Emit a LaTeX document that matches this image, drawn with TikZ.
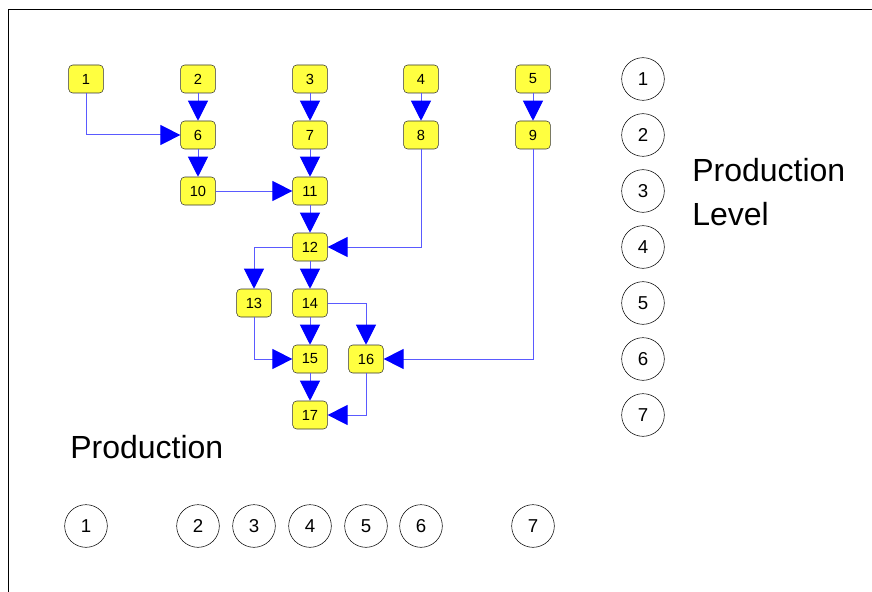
\documentclass[tikz,border=0pt]{standalone}
\usepackage{fontspec}
\setmainfont{Liberation Sans}
\usetikzlibrary{arrows.meta, positioning}
\definecolor{partyellow}{RGB}{255,255,64}
\definecolor{flowblue}{RGB}{90,90,255}

\begin{document}
\begin{tikzpicture}[
    x=0.75pt, y=-0.75pt,
    part/.style={rectangle, draw=black!80, fill=partyellow, rounded corners=3pt, minimum width=26pt, minimum height=21pt, inner sep=0pt, font=\fontsize{11}{13}\selectfont},
    ring/.style={circle, draw, minimum size=32pt, inner sep=0pt, font=\fontsize{14}{16}\selectfont},
    flow/.style={draw=flowblue, line width=0.75pt, -{Triangle[length=15pt, width=15pt, color=blue]}},
    caption/.style={inner sep=0pt, font=\fontsize{24}{33}\selectfont}
]
    \useasboundingbox (0,0) rectangle (872,592);
    \draw[line width=1.2pt] (8.5,9.5) rectangle (1000,700);

    % Parts - top row
    \node[part] (p1) at (86,79) {1};
    \node[part] (p2) at (198,79) {2};
    \node[part] (p3) at (310,79) {3};
    \node[part] (p4) at (421,79) {4};
    \node[part] (p5) at (533,79) {5};

    % Parts - second row
    \node[part] (p6) at (198,135) {6};
    \node[part] (p7) at (310,135) {7};
    \node[part] (p8) at (421,135) {8};
    \node[part] (p9) at (533,135) {9};

    % Parts - assembly
    \node[part] (p10) at (198,191) {10};
    \node[part] (p11) at (310,191) {11};
    \node[part] (p12) at (310,247) {12};
    \node[part] (p13) at (254,303) {13};
    \node[part] (p14) at (310,303) {14};
    \node[part] (p15) at (310,359) {15};
    \node[part] (p16) at (366,359) {16};
    \node[part] (p17) at (310,415) {17};

    % Flow
    \draw[flow] (p1) |- (p6);
    \draw[flow] (p2) -- (p6);
    \draw[flow] (p3) -- (p7);
    \draw[flow] (p4) -- (p8);
    \draw[flow] (p5) -- (p9);
    \draw[flow] (p6) -- (p10);
    \draw[flow] (p7) -- (p11);
    \draw[flow] (p10) -- (p11);
    \draw[flow] (p11) -- (p12);
    \draw[flow] (p8) |- (p12);
    \draw[flow] (p12) -| (p13);
    \draw[flow] (p12) -- (p14);
    \draw[flow] (p14) -- (p15);
    \draw[flow] (p14) -| (p16);
    \draw[flow] (p13) |- (p15);
    \draw[flow] (p9) |- (p16);
    \draw[flow] (p15) -- (p17);
    \draw[flow] (p16) |- (p17);

    % Production levels (right)
    \node[ring] (lvl1) at (643,79) {1};
    \node[ring] (lvl2) at (643,135) {2};
    \node[ring] (lvl3) at (643,191) {3};
    \node[ring] (lvl4) at (643,247) {4};
    \node[ring] (lvl5) at (643,303) {5};
    \node[ring] (lvl6) at (643,359) {6};
    \node[ring] (lvl7) at (643,415) {7};
    \node[caption, anchor=west, align=left] (levelcap) at (692,192) {Production\\Level};

    % Production (bottom)
    \node[caption, anchor=base west] (prodcap) at (70,458) {Production};
    \node[ring] (prd1) at (86,526) {1};
    \node[ring] (prd2) at (198,526) {2};
    \node[ring] (prd3) at (254,526) {3};
    \node[ring] (prd4) at (310,526) {4};
    \node[ring] (prd5) at (366,526) {5};
    \node[ring] (prd6) at (421,526) {6};
    \node[ring] (prd7) at (533,526) {7};
\end{tikzpicture}
\end{document}
